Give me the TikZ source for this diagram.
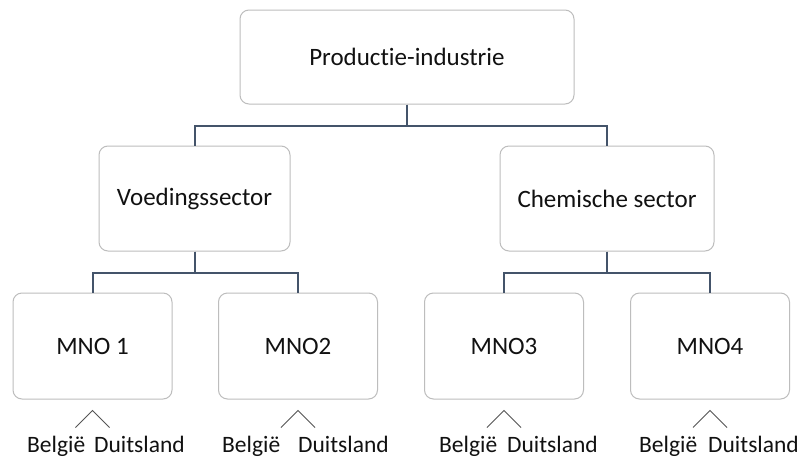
\documentclass[tikz,border=0pt]{standalone}
\usepackage{fontspec}
\setmainfont{Carlito}[Ligatures={NoCommon,NoContextual}]
\definecolor{textcol}{HTML}{111111}
\definecolor{boxgray}{HTML}{BDBDBD}
\definecolor{linecol}{HTML}{44546A}
\definecolor{caretcol}{HTML}{555555}
\tikzset{
  orgbox/.style={draw=boxgray, line width=1pt, rounded corners=9pt, fill=white,
    inner sep=0pt, text=textcol, font=\fontsize{25}{30}\selectfont},
  mnobox/.style={orgbox, minimum width=159pt, minimum height=106pt},
  conn/.style={draw=linecol, line width=2pt},
  caret/.style={draw=caretcol, line width=0.9pt},
  lbl/.style={inner sep=0pt, text=textcol, font=\fontsize{23.5}{28}\selectfont}
}
\begin{document}
\begin{tikzpicture}[x=1pt,y=-1pt]
\useasboundingbox[fill=white] (0,0) rectangle (808,461);
% boxes
\node[orgbox, minimum width=334pt, minimum height=94pt] (top) at (407,57) {Productie-industrie};
\node[orgbox, minimum width=191pt, minimum height=105pt] (voed) at (194.5,198.5) {Voedingssector};
\node[orgbox, minimum width=214pt, minimum height=105pt] (chem) at (607,198.5) {Chemische sector};
\node[mnobox] (m1) at (92.5,346) {MNO 1};
\node[mnobox] (m2) at (298,346) {MNO2};
\node[mnobox] (m3) at (504,346) {MNO3};
\node[mnobox] (m4) at (710,346) {MNO4};
% connectors
\draw[conn] (top.south) -- ++(0,21) -| (voed.north);
\draw[conn] (top.south) -- ++(0,21) -| (chem.north);
\draw[conn] (voed.south) -- ++(0,21) -| (m1.north);
\draw[conn] (voed.south) -- ++(0,21) -| (m2.north);
\draw[conn] (chem.south) -- ++(0,21) -| (m3.north);
\draw[conn] (chem.south) -- ++(0,21) -| (m4.north);
% carets
\foreach \m in {m1,m2,m3,m4}{
  \draw[caret] ([xshift=-17pt,yshift=-28pt]\m.south) -- ([yshift=-11pt]\m.south) -- ([xshift=17pt,yshift=-28pt]\m.south);
}
% labels
\node[lbl, anchor=base west] (b1) at (27,452) {België};
\node[lbl, anchor=base east] (d1) at (185,452) {Duitsland};
\node[lbl, anchor=base west] (b2) at (222,452) {België};
\node[lbl, anchor=base east] (d2) at (389,452) {Duitsland};
\node[lbl, anchor=base west] (b3) at (439,452) {België};
\node[lbl, anchor=base east] (d3) at (598,452) {Duitsland};
\node[lbl, anchor=base west] (b4) at (639,452) {België};
\node[lbl, anchor=base east] (d4) at (799,452) {Duitsland};
\end{tikzpicture}
\end{document}
